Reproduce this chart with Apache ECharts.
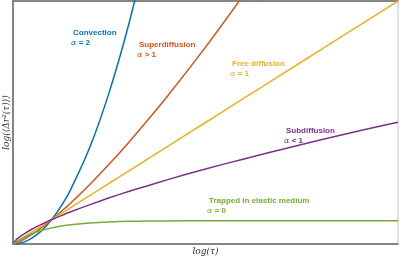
<!DOCTYPE html>
<html>
<head>
<meta charset="utf-8">
<script src="https://cdn.jsdelivr.net/npm/echarts@6/dist/echarts.min.js"></script>
<style>
  html, body { margin: 0; padding: 0; background: #fff; }
  #chart { width: 400px; height: 258px; }
</style>
</head>
<body>
<div id="chart"></div>
<script>
// lag time (normalised)
const tau = [0, 0.01, 0.02, 0.03, 0.05, 0.075, 0.1, 0.125, 0.15, 0.2, 0.25, 0.3, 0.35, 0.4, 0.5, 0.6, 0.7, 0.8, 0.9, 1.0];

// MSD per regime (normalised)
const convection = [0, 0.001, 0.004, 0.009, 0.025, 0.056, 0.1, 0.156, 0.225, 0.4, 0.625, 0.9, 1.225, null, null, null, null, null, null, null];
const superdiffusion = [0, 0.005, 0.0123, 0.0209, 0.0406, 0.0688, 0.1, 0.1337, 0.169, 0.246, 0.329, 0.417, 0.510, 0.606, 0.810, 1.027, null, null, null, null];
const freeDiffusion = [0, 0.01, 0.02, 0.03, 0.05, 0.075, 0.1, 0.125, 0.15, 0.2, 0.25, 0.3, 0.35, 0.4, 0.5, 0.6, 0.7, 0.8, 0.9, 1.0];
const subdiffusion = [0, 0.020, 0.0324, 0.043, 0.0616, 0.0818, 0.1, 0.117, 0.133, 0.162, 0.190, 0.216, 0.240, 0.264, 0.309, 0.350, 0.390, 0.429, 0.466, 0.501];
const trapped = [0, 0.0107, 0.0202, 0.0285, 0.0427, 0.0563, 0.0664, 0.074, 0.0796, 0.0869, 0.0909, 0.0932, 0.0944, 0.0951, 0.0957, 0.096, 0.096, 0.096, 0.096, 0.096];

const regimes = [
  { name: 'Convection', alpha: ' = 2', color: '#0072BD', data: convection, pos: [73, 29] },
  { name: 'Superdiffusion', alpha: ' > 1', color: '#D95319', data: superdiffusion, pos: [139, 41] },
  { name: 'Free diffusion', alpha: ' = 1', color: '#EDB120', data: freeDiffusion, pos: [232, 60] },
  { name: 'Subdiffusion', alpha: ' < 1', color: '#7E2F8E', data: subdiffusion, pos: [286, 127] },
  { name: 'Trapped in elastic medium', alpha: ' = 0', color: '#77AC30', data: trapped, pos: [209, 197] }
];

const chart = echarts.init(document.getElementById('chart'));

const labels = [];
regimes.forEach((r) => {
  labels.push({
    type: 'text',
    left: r.pos[0],
    top: r.pos[1],
    style: {
      text: r.name,
      fill: r.color,
      font: 'bold 8px "Liberation Sans", Arial, sans-serif'
    }
  });
  labels.push({
    type: 'text',
    left: r.pos[0] - 2,
    top: r.pos[1] + 10,
    style: {
      text: '{a|α}' + r.alpha,
      fill: r.color,
      font: 'bold 8px "Liberation Sans", Arial, sans-serif',
      rich: {
        a: { fontFamily: '"DejaVu Serif", serif', fontStyle: 'italic', fontWeight: 'normal', fontSize: 8, fill: r.color }
      }
    }
  });
});

const option = {
  backgroundColor: '#fff',
  animation: false,
  grid: {
    left: 13,
    right: 2,
    top: 1,
    bottom: 14,
    outerBoundsMode: 'none',
    show: true,
    borderColor: '#c8c8c8',
    borderWidth: 1
  },
  xAxis: [
    {
      type: 'value',
      min: 0,
      max: 1,
      name: 'log(τ)',
      nameLocation: 'middle',
      nameGap: 3,
      nameTextStyle: { fontFamily: '"DejaVu Serif", serif', fontStyle: 'italic', fontSize: 9, color: '#333', verticalAlign: 'top' },
      axisLine: { show: true, lineStyle: { color: '#666', width: 1.5 } },
      axisTick: { show: false },
      axisLabel: { show: false },
      splitLine: { show: false }
    },
    {
      type: 'value',
      position: 'top',
      min: 0,
      max: 1,
      axisLine: { show: true, lineStyle: { color: '#666', width: 1.5 } },
      axisTick: { show: false },
      axisLabel: { show: false },
      splitLine: { show: false }
    }
  ],
  yAxis: {
    type: 'value',
    min: 0,
    max: 1,
    name: 'log(⟨Δr²(τ)⟩)',
    nameLocation: 'middle',
    nameGap: 2,
    nameTextStyle: { fontFamily: '"DejaVu Serif", serif', fontStyle: 'italic', fontSize: 9, color: '#333' },
    axisLine: { show: true, lineStyle: { color: '#666', width: 1.5 } },
    axisTick: { show: false },
    axisLabel: { show: false },
    splitLine: { show: false }
  },
  series: regimes.map((r) => ({
    type: 'line',
    name: r.name,
    data: tau.map((t, i) => [t, r.data[i]]),
    smooth: 0.25,
    showSymbol: false,
    lineStyle: { color: r.color, width: 1.5 },
    z: 3
  })),
  graphic: labels
};

chart.setOption(option);
</script>
</body>
</html>
